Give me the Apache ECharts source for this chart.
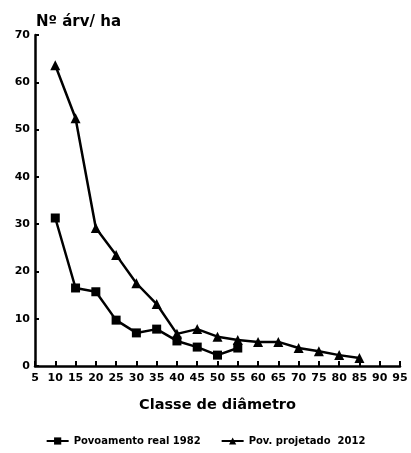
<!DOCTYPE html>
<html>
<head>
<meta charset="utf-8">
<script src="https://cdn.jsdelivr.net/npm/echarts@6/dist/echarts.min.js"></script>
<style>
  html, body { margin: 0; padding: 0; background: #fff; }
  #chart { width: 411px; height: 453px; }
</style>
</head>
<body>
<div id="chart"></div>
<script>
// Diameter classes (cm) and trees per hectare for each stand
const realClasses = [10, 15, 20, 25, 30, 35, 40, 45, 50, 55];
const realValues = [31.3, 16.5, 15.7, 9.7, 7.0, 7.8, 5.3, 4.0, 2.3, 3.8];
const projClasses = [10, 15, 20, 25, 30, 35, 40, 45, 50, 55, 60, 65, 70, 75, 80, 85];
const projValues = [63.6, 52.4, 29.2, 23.5, 17.5, 13.1, 6.8, 7.8, 6.2, 5.5, 5.1, 5.1, 3.8, 3.1, 2.3, 1.7];
const seriesNames = ['Povoamento real 1982', 'Pov. projetado  2012'];
const yTitle = 'Nº árv/ ha';
const xTitle = 'Classe de diâmetro';

const pairs = (xs, ys) => xs.map((x, i) => [x, ys[i]]);
const font = 'DejaVu Sans, sans-serif';
const ink = '#000';

const chart = echarts.init(document.getElementById('chart'), null, { renderer: 'canvas' });
chart.setOption({
  animation: false,
  backgroundColor: '#fff',
  textStyle: { fontFamily: font, color: ink },
  grid: { left: 35, right: 11, top: 35, bottom: 87 },
  title: {
    text: yTitle,
    left: 31, top: 10,
    textStyle: { fontFamily: font, fontSize: 15, fontWeight: 'bold', color: ink }
  },
  legend: {
    top: 431,
    left: 'center',
    itemGap: 20,
    itemWidth: 22,
    itemHeight: 9,
    textStyle: { fontFamily: font, fontSize: 10, fontWeight: 'bold', color: ink },
    data: seriesNames
  },
  xAxis: {
    type: 'value',
    min: 5, max: 95, interval: 5,
    name: xTitle,
    nameLocation: 'middle',
    nameGap: 32,
    nameTextStyle: { fontFamily: font, fontSize: 14.5, fontWeight: 'bold', color: ink },
    splitLine: { show: false },
    axisLine: { lineStyle: { color: ink, width: 2.5 } },
    axisTick: { inside: true, length: 5, lineStyle: { color: ink, width: 2 } },
    axisLabel: { fontFamily: font, fontSize: 11, fontWeight: 'bold', color: ink, margin: 7 }
  },
  yAxis: {
    type: 'value',
    min: 0, max: 70, interval: 10,
    splitLine: { show: false },
    axisLine: { show: true, lineStyle: { color: ink, width: 2.5 } },
    axisTick: { show: true, inside: true, length: 4, lineStyle: { color: ink, width: 2 } },
    axisLabel: { fontFamily: font, fontSize: 11, fontWeight: 'bold', color: ink, margin: 5 }
  },
  series: [
    {
      name: seriesNames[0],
      type: 'line',
      data: pairs(realClasses, realValues),
      symbol: 'rect',
      symbolSize: 9,
      itemStyle: { color: ink },
      lineStyle: { color: ink, width: 2.5 }
    },
    {
      name: seriesNames[1],
      type: 'line',
      data: pairs(projClasses, projValues),
      symbol: 'triangle',
      symbolSize: 10,
      itemStyle: { color: ink },
      lineStyle: { color: ink, width: 2.5 }
    }
  ]
});
</script>
</body>
</html>
